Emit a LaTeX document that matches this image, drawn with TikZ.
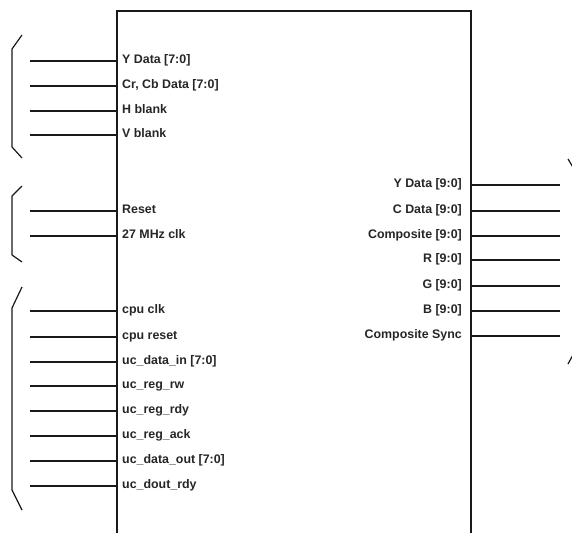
\documentclass[tikz,border=0pt]{standalone}
\usepackage{fontspec}
\setmainfont{Liberation Sans}
\begin{document}
\begin{tikzpicture}[x=1pt,y=-1pt,
  wire/.style={line width=1.3pt, line cap=butt, black!90},
  frame/.style={line width=1.6pt, black!90},
  brk/.style={line width=1.2pt, line join=round, black!90},
  pinfont/.style={font=\fontsize{12.4}{14}\selectfont\bfseries, text=black!85, text height=8.6pt, text depth=2.8pt, inner ysep=0pt},
  lpin/.style={pinfont, anchor=west, inner xsep=5pt},
  rpin/.style={pinfont, anchor=east, inner xsep=9pt}]
\useasboundingbox (0,0) rectangle (572,533);
% block frame (open at bottom, runs off the page)
\coordinate (bl) at (117,533);
\coordinate (tl) at (117,11);
\coordinate (tr) at (471,11);
\coordinate (br) at (471,533);
\draw[frame] (bl) -- (tl) -- (tr) -- (br);
% left pins
\foreach \n/\y/\t in {a/61/{Y Data [7:0]}, b/86/{Cr, Cb Data [7:0]}, c/111/{H blank}, d/135/{V blank},
  e/211/{Reset}, f/236/{27 MHz clk},
  g/311/{cpu clk}, h/337/{cpu reset}, i/362/{uc\_data\_in [7:0]}, j/386/{uc\_reg\_rw},
  k/411/{uc\_reg\_rdy}, l/436/{uc\_reg\_ack}, m/461/{uc\_data\_out [7:0]}, o/486/{uc\_dout\_rdy}}{
  \node[lpin] (L\n) at (117,\y) {\t};
  \coordinate (S\n) at (30,\y);
  \draw[wire] (S\n) -- (L\n.west);
}
% right pins
\foreach \n/\y/\t in {a/185/{Y Data [9:0]}, b/211/{C Data [9:0]}, c/236/{Composite [9:0]},
  d/260/{R [9:0]}, e/286/{G [9:0]}, f/311/{B [9:0]}, g/336/{Composite Sync}}{
  \node[rpin] (R\n) at (471,\y) {\t};
  \coordinate (T\n) at (560,\y);
  \draw[wire] (R\n.east) -- (T\n);
}
% left brackets
\coordinate (b1a) at (22,35); \coordinate (b1b) at (12,49);
\coordinate (b1c) at (12,147); \coordinate (b1d) at (22,158);
\draw[brk] (b1a) -- (b1b) -- (b1c) -- (b1d);
\coordinate (b2a) at (22,186); \coordinate (b2b) at (12,196);
\coordinate (b2c) at (12,255); \coordinate (b2d) at (22,262);
\draw[brk] (b2a) -- (b2b) -- (b2c) -- (b2d);
\coordinate (b3a) at (22,287); \coordinate (b3b) at (12,308);
\coordinate (b3c) at (12,490); \coordinate (b3d) at (22,510);
\draw[brk] (b3a) -- (b3b) -- (b3c) -- (b3d);
% right bracket (cut off at page edge)
\coordinate (r1a) at (568,159); \coordinate (r1b) at (574,169);
\coordinate (r2a) at (574,353); \coordinate (r2b) at (568,364);
\draw[brk] (r1a) -- (r1b);
\draw[brk] (r2a) -- (r2b);
\end{tikzpicture}
\end{document}
